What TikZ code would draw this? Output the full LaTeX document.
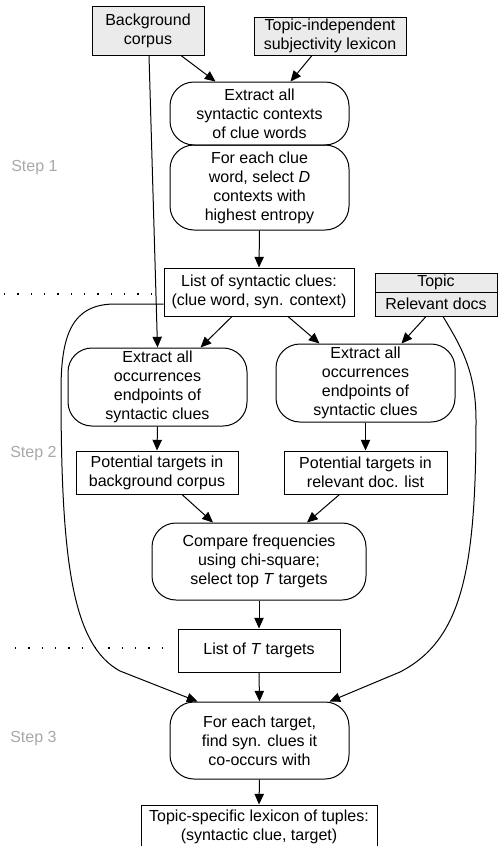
\documentclass[tikz,border=0pt]{standalone}
\usepackage{fontspec}
\setmainfont{Liberation Sans}
\usetikzlibrary{arrows.meta,calc}
\definecolor{boxgray}{HTML}{EBEBEB}
\definecolor{steptext}{HTML}{A8A8A8}
\tikzset{
  base/.style={draw, line width=0.75pt, align=center, inner sep=0pt,
    font=\fontsize{12pt}{14.25pt}\selectfont},
  rect/.style={base},
  grayrect/.style={base, fill=boxgray},
  rbox/.style={base, rounded corners=18pt},
  arr/.style={line width=0.75pt, -{Triangle[length=8pt,width=7pt]}},
  link/.style={line width=0.75pt},
  dotline/.style={line width=0.9pt, dash pattern=on 0.9pt off 9.1pt},
  steplabel/.style={anchor=west, inner sep=0pt, text=steptext,
    font=\fontsize{12pt}{14.25pt}\selectfont},
}
\begin{document}
\begin{tikzpicture}[x=0.75pt,y=-0.75pt]
\useasboundingbox (0,0) rectangle (499,846);

% step labels
\node[steplabel] (s1) at (11,168) {Step 1};
\node[steplabel] (s2) at (10,454) {Step 2};
\node[steplabel] (s3) at (10,739) {Step 3};

% nodes
\node[grayrect, minimum width=112*0.75pt, minimum height=49*0.75pt] (bg) at (148,30.5) {Background\\corpus};
\node[grayrect, minimum width=152*0.75pt, minimum height=38*0.75pt] (til) at (330,36) {Topic-independent\\subjectivity lexicon};
\node[rbox, minimum width=179*0.75pt, minimum height=63*0.75pt] (ex1) at (259.5,113.5) {Extract all\\syntactic contexts\\of clue words};
\node[rbox, minimum width=179*0.75pt, minimum height=85*0.75pt] (fe) at (259.5,187.5) {For each clue\\word, select \textit{D}\\contexts with\\highest entropy};
\node[rect, minimum width=190*0.75pt, minimum height=48*0.75pt] (lsc) at (259,292) {List of syntactic clues:\\(clue word, syn. context)};
\node[grayrect, minimum width=122*0.75pt, minimum height=19*0.75pt] (topic) at (436,282.5) {Topic};
\node[grayrect, minimum width=122*0.75pt, minimum height=24*0.75pt] (rel) at (436,304) {Relevant docs};
\node[rbox, minimum width=179*0.75pt, minimum height=78*0.75pt] (exL) at (157.5,387) {Extract all\\occurrences\\endpoints of\\syntactic clues};
\node[rbox, minimum width=179*0.75pt, minimum height=78*0.75pt] (exR) at (365.5,383) {Extract all\\occurrences\\endpoints of\\syntactic clues};
\node[rect, minimum width=162*0.75pt, minimum height=43*0.75pt] (potL) at (157,472.5) {Potential targets in\\background corpus};
\node[rect, minimum width=163*0.75pt, minimum height=43*0.75pt] (potR) at (365.5,472.5) {Potential targets in\\relevant doc. list};
\node[rbox, minimum width=214*0.75pt, minimum height=77*0.75pt] (cmp) at (259,561.5) {Compare frequencies\\using chi-square;\\select top \textit{T} targets};
\node[rect, minimum width=162*0.75pt, minimum height=43*0.75pt] (lt) at (259,650.5) {List of \textit{T} targets};
\node[rbox, minimum width=179*0.75pt, minimum height=77*0.75pt] (fet) at (259.5,740.5) {For each target,\\find syn. clues it\\co-occurs with};
\node[rect, minimum width=236*0.75pt, minimum height=43*0.75pt] (tsl) at (259,826.5) {Topic-specific lexicon of tuples:\\(syntactic clue, target)};

% connectors
\draw[arr] ($(bg.south)+(1,0)$) -- (exL.north);
\draw[arr] ($(bg.south)+(33,0)$) -- ($(ex1.north)+(-44,0)$);
\draw[arr] ($(til.south)+(-18,0)$) -- ($(ex1.north)+(31,0)$);
\draw[arr] (fe.south) -- (lsc.north);
\draw[arr] ($(lsc.south)+(-27,0)$) -- ($(exL.north)+(43,0)$);
\draw[arr] ($(lsc.south)+(29,0)$) -- ($(exR.north)+(-46,0)$);
\draw[arr] ($(rel.south)+(-10,0)$) -- ($(exR.north)+(36,0)$);
\draw[arr] (exL.south) -- (potL.north);
\draw[arr] (exR.south) -- (potR.north);
\draw[arr] ($(potL.south)+(25,0)$) -- ($(cmp.north)+(-46,0)$);
\draw[arr] ($(potR.south)+(-26,0)$) -- ($(cmp.north)+(48,0)$);
\draw[arr] (cmp.south) -- (lt.north);
\draw[arr] (lt.south) -- (fet.north);
\draw[arr] (fet.south) -- (tsl.north);

% long curves
\draw[arr] ($(lsc.west)+(0,12)$) -- (115,304)
  .. controls (72,304) and (61,335) .. (61,390)
  .. controls (61,560) and (72,645) .. (120,671)
  -- ($(fet.north)+(-62,0)$);
\draw[arr] ($(rel.south)+(7,0)$)
  .. controls (460,345) and (476,370) .. (476,420)
  .. controls (476,570) and (462,640) .. (400,672)
  -- ($(fet.north)+(70,0)$);

% dotted separators
\coordinate (d1a) at (4,294);
\coordinate (d1b) at (152,294);
\coordinate (d2a) at (15,648);
\coordinate (d2b) at (167,648);
\draw[dotline] (d1a) -- (d1b);
\draw[dotline] (d2a) -- (d2b);
\end{tikzpicture}
\end{document}
